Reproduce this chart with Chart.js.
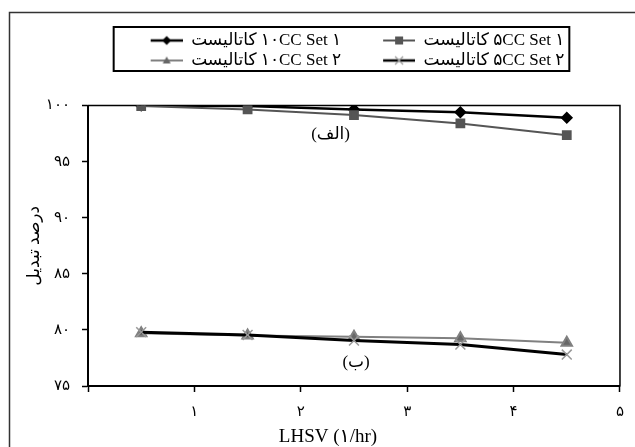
<!DOCTYPE html>
<html>
<head>
<meta charset="utf-8">
<script src="https://cdn.jsdelivr.net/npm/chart.js@4.4.1/dist/chart.umd.min.js"></script>
<style>
  html, body { margin: 0; padding: 0; background: #fff; }
  #wrap { width: 635px; height: 447px; }
</style>
</head>
<body>
<div id="wrap"><canvas id="chart"></canvas></div>
<script>
'use strict';

// LHSV values where the runs were measured
const lhsv = [0.5, 1.5, 2.5, 3.5, 4.5];
// conversion (%) for each catalyst run
const set1cc10 = [100, 99.95, 99.65, 99.4, 98.9];
const set1cc5 = [99.95, 99.65, 99.15, 98.4, 97.35];
const set2cc10 = [79.7, 79.5, 79.4, 79.25, 78.85];
const set2cc5 = [79.8, 79.55, 79.05, 78.7, 77.8];

const seriesNames = [
  'کاتالیست \u200E۱۰CC Set ۱',
  'کاتالیست \u200E۵CC Set ۱',
  'کاتالیست \u200E۱۰CC Set ۲',
  'کاتالیست \u200E۵CC Set ۲'
];
const xTickLabels = ['', '۱', '۲', '۳', '۴', '۵'];
const yTickLabels = ['۷۵', '۸۰', '۸۵', '۹۰', '۹۵', '۱۰۰'];
const xTitle = 'LHSV (۱/hr)';
const yTitle = 'درصد تبدیل';
const curveLabels = ['(الف)', '(ب)'];

const FONT = "'Liberation Serif', 'DejaVu Sans', serif";
const GAP = 39; // blank space before each legend sample

function points(values) {
  return values.map((v, i) => ({ x: lhsv[i], y: v }));
}

// legend sample: a short line with the marker in its middle
function makeIcon(shape, lineColor, lineWidth, fill) {
  let c = document.createElement('canvas');
  c.width = GAP + 32;
  c.height = 16;
  let g = c.getContext('2d');
  g.strokeStyle = lineColor;
  g.lineWidth = lineWidth;
  g.beginPath();
  g.moveTo(GAP, 8);
  g.lineTo(GAP + 32, 8);
  g.stroke();
  let cx = GAP + 16, cy = 8;
  g.fillStyle = fill;
  g.strokeStyle = fill;
  g.beginPath();
  if (shape === 'diamond') {
    g.moveTo(cx, cy - 4.5); g.lineTo(cx + 4.5, cy); g.lineTo(cx, cy + 4.5); g.lineTo(cx - 4.5, cy);
    g.closePath(); g.fill();
  } else if (shape === 'square') {
    g.fillRect(cx - 4, cy - 4, 8, 8);
  } else if (shape === 'triangle') {
    g.moveTo(cx, cy - 4); g.lineTo(cx + 4, cy + 3); g.lineTo(cx - 4, cy + 3);
    g.closePath(); g.fill();
  } else {
    g.lineWidth = 1.2;
    g.moveTo(cx - 4, cy - 4); g.lineTo(cx + 4, cy + 4);
    g.moveTo(cx + 4, cy - 4); g.lineTo(cx - 4, cy + 4);
    g.stroke();
  }
  return c;
}

const legendIcons = [
  makeIcon('diamond', '#000', 2.5, '#000'),
  makeIcon('square', '#555', 2, '#555'),
  makeIcon('triangle', '#808080', 2, '#666'),
  makeIcon('cross', '#000', 2.5, '#999')
];

const decor = {
  id: 'decor',
  afterLayout(chart) {
    // the legend box sits a little right of the canvas centre
    chart.legend.left += 50;
  },
  beforeDatasetsDraw(chart) {
    let ctx = chart.ctx, a = chart.chartArea;
    ctx.save();
    ctx.strokeStyle = '#333';
    ctx.lineWidth = 1.5;
    ctx.strokeRect(9.5, 12.5, 700, 500);
    ctx.strokeStyle = '#000';
    ctx.strokeRect(a.left, a.top, a.right - a.left, a.bottom - a.top);
    let hb = chart.legend.legendHitBoxes;
    let left = Math.min(...hb.map(h => h.left)) + GAP - 37;
    let right = Math.max(...hb.map(h => h.left + h.width)) + 5;
    let top = Math.min(...hb.map(h => h.top)) - 5;
    let bottom = Math.max(...hb.map(h => h.top + h.height)) + 2;
    ctx.lineWidth = 2;
    ctx.strokeRect(left, top, right - left, bottom - top);
    ctx.restore();
  },
  afterDraw(chart) {
    let ctx = chart.ctx, a = chart.chartArea;
    let x = chart.scales.x, y = chart.scales.y;
    ctx.save();
    ctx.fillStyle = '#000';
    ctx.font = '17px ' + FONT;
    ctx.textAlign = 'center';
    ctx.textBaseline = 'middle';
    ctx.fillText(curveLabels[0], x.getPixelForValue(2.28), y.getPixelForValue(97.37));
    ctx.fillText(curveLabels[1], x.getPixelForValue(2.52), y.getPixelForValue(77.1));
    ctx.save();
    ctx.translate(35, (a.top + a.bottom) / 2);
    ctx.rotate(-Math.PI / 2);
    ctx.fillText(yTitle, 0, 0);
    ctx.restore();
    ctx.font = '19px ' + FONT;
    ctx.fillText(xTitle, 328, 437);
    ctx.restore();
  }
};

let canvasElem = document.getElementById('chart');

new Chart(canvasElem, {
  type: 'line',
  data: {
    datasets: [{
      label: seriesNames[0],
      data: points(set1cc10),
      borderColor: '#000',
      backgroundColor: '#000',
      borderWidth: 2.5,
      pointStyle: 'rectRot',
      pointRadius: 4.5,
      order: 1
    },
    {
      label: seriesNames[1],
      data: points(set1cc5),
      borderColor: '#555',
      backgroundColor: '#555',
      borderWidth: 2,
      pointStyle: 'rect',
      pointRadius: 5.5,
      order: 0
    },
    {
      label: seriesNames[2],
      data: points(set2cc10),
      borderColor: '#808080',
      backgroundColor: '#666',
      borderWidth: 2,
      pointStyle: 'triangle',
      pointRadius: 6,
      order: 1
    },
    {
      label: seriesNames[3],
      data: points(set2cc5),
      borderColor: '#000',
      backgroundColor: '#999',
      pointBorderColor: '#999',
      pointBorderWidth: 1.5,
      borderWidth: 3,
      pointStyle: 'crossRot',
      pointRadius: 7,
      order: 0
    }]
  },
  options: {
    responsive: true,
    maintainAspectRatio: false,
    animation: false,
    layout: { padding: { left: 0, right: 9, top: 29, bottom: 0 } },
    elements: { line: { tension: 0 } },
    plugins: {
      title: {
        display: true,
        text: '',
        weight: 500,
        padding: 0,
        font: { size: 12, lineHeight: '26.5px' }
      },
      legend: {
        position: 'top',
        labels: {
          color: '#000',
          font: { family: FONT, size: 17 },
          padding: 3,
          usePointStyle: true,
          pointStyleWidth: GAP + 32,
          sort: (p, q) => p.datasetIndex - q.datasetIndex,
          generateLabels(chart) {
            let items = Chart.defaults.plugins.legend.labels.generateLabels(chart);
            items.forEach(it => { it.pointStyle = legendIcons[it.datasetIndex]; });
            return items;
          }
        }
      },
      tooltip: { enabled: false }
    },
    scales: {
      x: {
        type: 'linear',
        min: 0,
        max: 5,
        afterFit: s => { s.height = 61; },
        ticks: {
          stepSize: 1,
          padding: 11,
          color: '#000',
          font: { family: FONT, size: 15 },
          maxRotation: 0,
          callback: (v, i) => xTickLabels[i]
        },
        grid: { drawOnChartArea: false, tickLength: 6, color: '#000', tickWidth: 1.5 },
        border: { color: '#000', width: 2 }
      },
      y: {
        min: 75,
        max: 100,
        afterFit: s => { s.width = 88; },
        ticks: {
          stepSize: 5,
          padding: 12,
          color: '#000',
          font: { family: FONT, size: 15 },
          callback: (v, i) => yTickLabels[i]
        },
        grid: { drawOnChartArea: false, tickLength: 6, color: '#000', tickWidth: 1.5 },
        border: { color: '#000', width: 2 }
      }
    }
  },
  plugins: [decor]
});
</script>
</body>
</html>
